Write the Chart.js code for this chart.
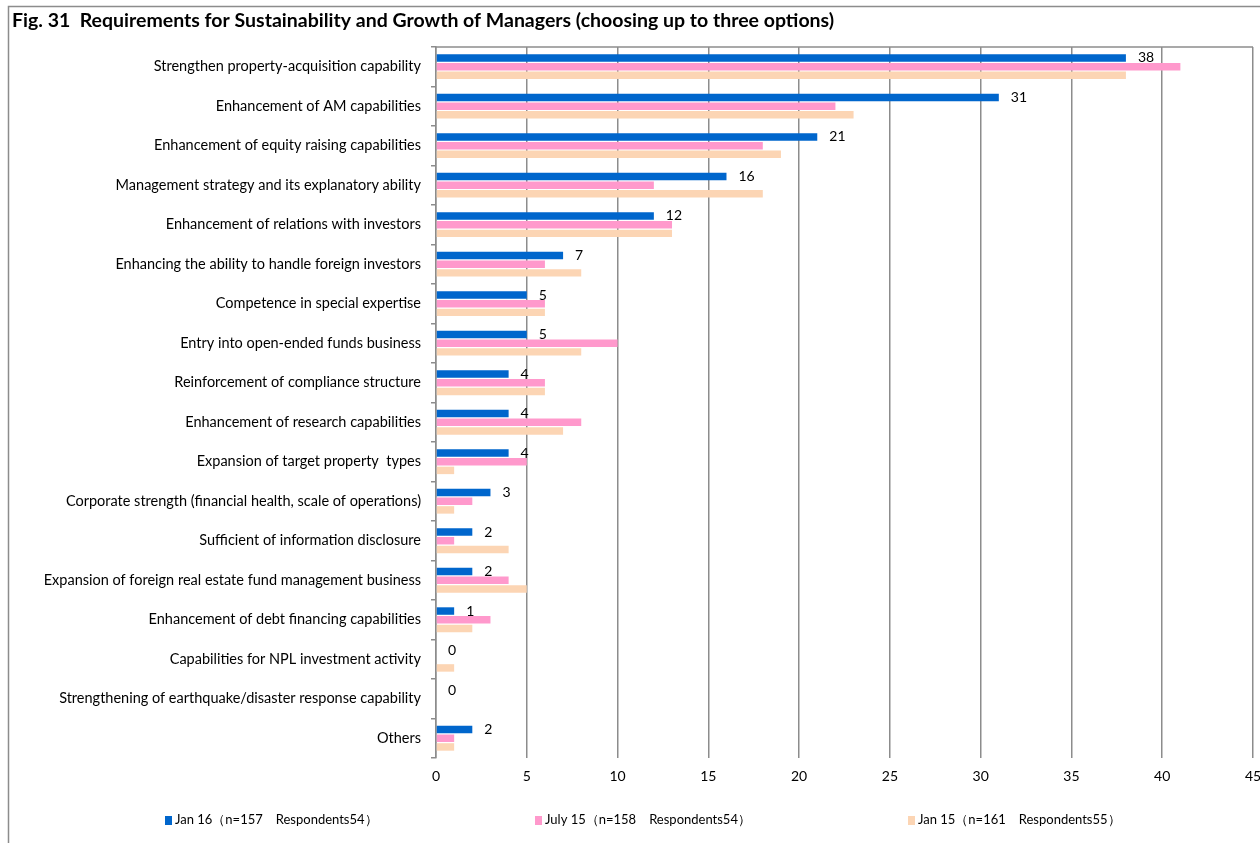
<!DOCTYPE html>
<html>
<head>
<meta charset="utf-8">
<script src="https://cdn.jsdelivr.net/npm/chart.js@4"></script>
<style>
  html, body { margin: 0; padding: 0; background: #fff; }
  #wrap { width: 1260px; height: 843px; position: relative; }
</style>
</head>
<body>
<div id="wrap"><canvas id="myChart" width="1260" height="843"></canvas></div>
<script>
var categories = [
    'Strengthen property-acquisition capability',
    'Enhancement of AM capabilities',
    'Enhancement of equity raising capabilities',
    'Management strategy and its explanatory ability',
    'Enhancement of relations with investors',
    'Enhancing the ability to handle foreign investors',
    'Competence in special expertise',
    'Entry into open-ended funds business',
    'Reinforcement of compliance structure',
    'Enhancement of research capabilities',
    'Expansion of target property  types',
    'Corporate strength (financial health, scale of operations)',
    'Sufficient of information disclosure',
    'Expansion of foreign real estate fund management business',
    'Enhancement of debt financing capabilities',
    'Capabilities for NPL investment activity',
    'Strengthening of earthquake/disaster response capability',
    'Others'
];
var seriesNames = [
    'Jan 16（n=157　Respondents54）',
    'July 15（n=158　Respondents54）',
    'Jan 15（n=161　Respondents55）'
];
var jan16 = [38, 31, 21, 16, 12, 7, 5, 5, 4, 4, 4, 3, 2, 2, 1, 0, 0, 2];
var july15 = [41, 22, 18, 12, 13, 6, 6, 10, 6, 8, 5, 2, 1, 4, 3, 0, 0, 1];
var jan15 = [38, 23, 19, 18, 13, 8, 6, 8, 6, 7, 1, 1, 4, 5, 2, 1, 0, 1];
var xTicks = [0, 5, 10, 15, 20, 25, 30, 35, 40, 45];
var colors = ['#0066CC', '#FF99CC', '#FCD5B4'];

var FONT = "Lato, 'Open Sans', sans-serif";

// frame, plot border, value labels and legend
var extras = {
    id: 'extras',
    beforeDraw: function (chart) {
        var c = chart.ctx;
        c.save();
        c.fillStyle = '#fff';
        c.fillRect(0, 0, chart.width, chart.height);
        c.strokeStyle = '#8c8c8c';
        c.lineWidth = 1.5;
        c.beginPath();
        c.moveTo(8.5, chart.height);
        c.lineTo(8.5, 6.5);
        c.lineTo(chart.width, 6.5);
        c.stroke();
        c.restore();
    },
    afterDraw: function (chart) {
        var c = chart.ctx;
        var a = chart.chartArea;
        c.save();
        c.strokeStyle = '#8c8c8c';
        c.lineWidth = 1.5;
        c.beginPath();
        c.moveTo(a.left, a.top);
        c.lineTo(a.right, a.top);
        c.stroke();

        // values for the first series only
        c.fillStyle = '#000';
        c.font = '14px ' + FONT;
        c.textAlign = 'left';
        c.textBaseline = 'middle';
        var meta = chart.getDatasetMeta(0);
        meta.data.forEach(function (bar, i) {
            c.fillText(String(jan16[i]), bar.x + 12, bar.y);
        });

        // legend
        var starts = [165, 535, 908];
        var ly = 820;
        c.font = '13px ' + FONT;
        seriesNames.forEach(function (name, i) {
            c.fillStyle = colors[i];
            c.fillRect(starts[i], ly - 4, 7, 9);
            c.fillStyle = '#000';
            c.fillText(name, starts[i] + 10, ly);
        });
        c.restore();
    }
};

var ctx = document.getElementById('myChart').getContext('2d');
var myChart = new Chart(ctx, {
    type: 'bar',
    data: {
        labels: categories,
        datasets: [
            { label: seriesNames[0], data: jan16, backgroundColor: colors[0] },
            { label: seriesNames[1], data: july15, backgroundColor: colors[1] },
            { label: seriesNames[2], data: jan15, backgroundColor: colors[2] }
        ]
    },
    options: {
        indexAxis: 'y',
        responsive: false,
        animation: false,
        devicePixelRatio: 1,
        datasets: {
            bar: { categoryPercentage: 0.66, barPercentage: 0.86 }
        },
        layout: { padding: { left: 12, right: 7, top: 0, bottom: 55 } },
        plugins: {
            legend: { display: false },
            tooltip: { enabled: false },
            title: {
                display: true,
                text: 'Fig. 31  Requirements for Sustainability and Growth of Managers (choosing up to three options)',
                align: 'start',
                color: '#000',
                font: { family: FONT, size: 19.5, weight: 'bold' },
                padding: { top: 9, bottom: 14.5 }
            }
        },
        scales: {
            x: {
                min: 0,
                max: 45,
                afterBuildTicks: function (scale) {
                    scale.ticks = xTicks.map(function (v) { return { value: v }; });
                },
                afterFit: function (scale) {
                    scale.height = 30;
                    scale.paddingRight = 0;
                    scale.paddingLeft = 0;
                },
                grid: { color: '#8c8c8c', lineWidth: 1.5, drawTicks: false },
                border: { display: false },
                ticks: { color: '#000', padding: 10, font: { family: FONT, size: 14 } }
            },
            y: {
                afterFit: function (scale) { scale.width = 424; },
                grid: { offset: true, drawOnChartArea: false, tickLength: 5, color: '#8c8c8c', lineWidth: 1.5 },
                border: { color: '#8c8c8c', width: 1.5 },
                ticks: { color: '#000', padding: 10, autoSkip: false, font: { family: FONT, size: 14.5 } }
            }
        }
    },
    plugins: [extras]
});
</script>
</body>
</html>
